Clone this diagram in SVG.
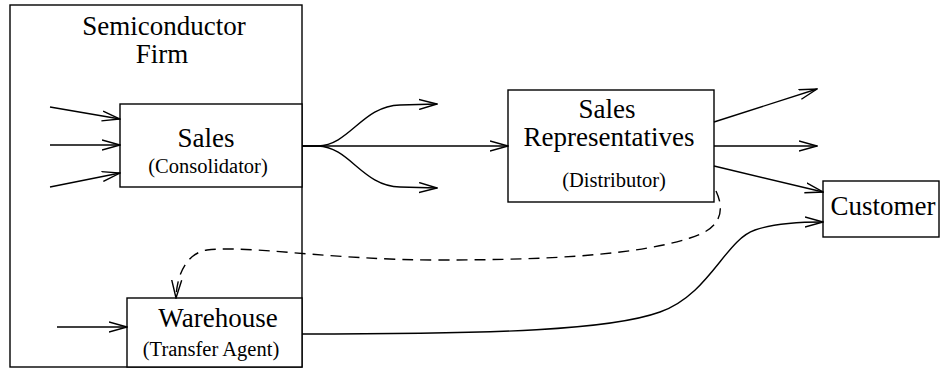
<svg xmlns="http://www.w3.org/2000/svg" width="941" height="369" viewBox="0 0 941 369">
<defs>
<marker id="arr" markerUnits="userSpaceOnUse" viewBox="0 0 19 12" refX="18" refY="6" markerWidth="19" markerHeight="12" orient="auto">
<path d="M0,1 L18,6 L0,11" fill="none" stroke="#000" stroke-width="1.4"/>
</marker>
</defs>
<style>
.box{fill:#fff;stroke:#000;stroke-width:1.4}
.big{font-family:"Liberation Serif","Times New Roman",serif;font-size:27px;fill:#000;text-anchor:middle}
.small{font-family:"Liberation Serif","Times New Roman",serif;font-size:20.5px;fill:#000;text-anchor:middle}
.ln{fill:none;stroke:#000;stroke-width:1.4}
.arr{marker-end:url(#arr)}
.dash{stroke-dasharray:11,7}
</style>
<rect width="941" height="369" fill="#fff"/>
<g id="firm">
<rect class="box" x="10" y="5" width="292" height="362"/>
<text class="big" x="164" y="35">Semiconductor</text>
<text class="big" x="162" y="63">Firm</text>
</g>
<g id="sales">
<rect class="box" x="120" y="104" width="182" height="83"/>
<text class="big" x="206" y="147">Sales</text>
<text class="small" x="208" y="173">(Consolidator)</text>
</g>
<g id="warehouse">
<rect class="box" x="127" y="298" width="175" height="69"/>
<text class="big" x="218" y="327">Warehouse</text>
<text class="small" x="211" y="356">(Transfer Agent)</text>
</g>
<g id="reps">
<rect class="box" x="508" y="90" width="206" height="112"/>
<text class="big" x="607" y="118">Sales</text>
<text class="big" x="609" y="146">Representatives</text>
<text class="small" x="614" y="187">(Distributor)</text>
</g>
<g id="customer">
<rect class="box" x="823" y="181" width="116" height="56"/>
<text class="big" x="883" y="215">Customer</text>
</g>
<g id="connectors">
<path class="ln arr" d="M50,107 L120,119"/>
<path class="ln arr" d="M50,145 L120,145"/>
<path class="ln arr" d="M50,187 L120,173"/>
<path class="ln arr" d="M57,327 L127,327"/>
<path class="ln arr" d="M302,146 L508,146"/>
<path class="ln arr" d="M302,146 L318,146 C350,145 362,106 400,105 L437,104"/>
<path class="ln arr" d="M302,146 L318,146 C350,147 362,186 400,187 L437,188"/>
<path class="ln arr" d="M714,122 L817,89"/>
<path class="ln arr" d="M714,146 L817,146"/>
<path class="ln arr" d="M714,166 L823,192"/>
<path class="ln arr" d="M302,334 C500,334 610,330 660,312 C710,294 725,240 755,230 C775,223 800,222 823,222"/>
<path class="ln arr dash" d="M716,191 C724,208 724,228 690,238 C640,254 560,260 440,260 C330,260 250,245 207,250 C188,253 177,272 176,298"/>
</g>
</svg>
